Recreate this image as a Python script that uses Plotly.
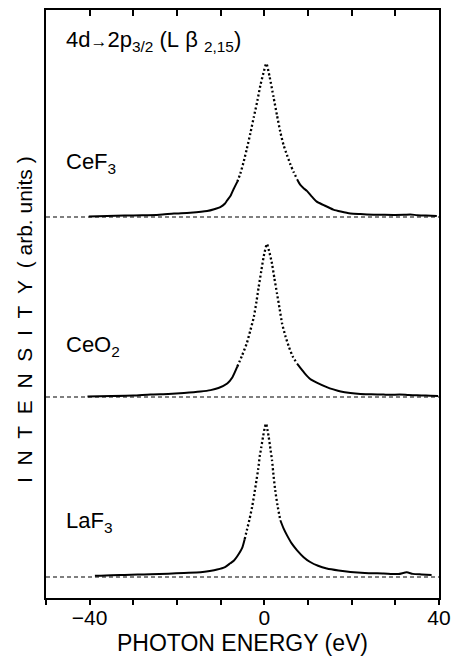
import plotly.graph_objects as go

# ---------------- data ----------------
cef3_x = [-40.2, -36, -32, -28, -24, -20.7, -17, -13.1, -11.5, -10, -9, -8.5, -7.7, -7, -6.2,
          -5.5, -4.7, -4, -3.2, -2.4, -1.6, -0.9, -0.2, 0.46, 1.2, 2.1, 2.9, 3.66, 4.4, 5.2,
          6.0, 6.7, 7.5, 8.2, 9.0, 9.75, 11, 12, 13.5, 15.8, 17.5, 19.7, 22, 25, 27.2, 30,
          32, 33.4, 35, 37, 39.5]
cef3_y = [0.002, 0.006, 0.008, 0.009, 0.012, 0.019, 0.024, 0.033, 0.043, 0.056, 0.075, 0.093, 0.12, 0.157, 0.195,
          0.241, 0.31, 0.38, 0.465, 0.556, 0.645, 0.732, 0.80, 0.852, 0.78, 0.667, 0.565, 0.472, 0.40, 0.343,
          0.29, 0.25, 0.21, 0.18, 0.16, 0.145, 0.11, 0.085, 0.067, 0.041, 0.03, 0.019, 0.016, 0.013, 0.012, 0.011,
          0.012, 0.014, 0.010, 0.008, 0.005]

ceo2_x = [-40.5, -35, -30, -26.1, -22, -18.4, -14.6, -12.3, -10.5, -8.5, -7.3, -6.2, -5.1, -4.0, -3.2,
          -2.4, -1.8, -1.3, -0.7, -0.15, 0.6, 1.2, 1.76, 2.3, 2.9, 3.5, 4.05, 4.8, 5.6, 6.5,
          7.5, 8.2, 9.3, 10.5, 12, 14.3, 15.8, 17.5, 19.7, 22, 24.5, 27.3, 29, 31, 33,
          35, 37, 39.8]
ceo2_y = [0.003, 0.005, 0.008, 0.014, 0.017, 0.022, 0.030, 0.038, 0.050, 0.075, 0.11, 0.168, 0.23, 0.30, 0.37,
          0.445, 0.53, 0.61, 0.70, 0.78, 0.85, 0.80, 0.74, 0.66, 0.575, 0.49, 0.41, 0.34, 0.28, 0.225,
          0.185, 0.163, 0.13, 0.10, 0.08, 0.055, 0.042, 0.030, 0.022, 0.017, 0.015, 0.013, 0.012, 0.014, 0.011,
          0.009, 0.008, 0.005]

laf3_x = [-38.8, -35, -32, -29, -26.1, -22, -18.4, -14.6, -12.5, -10.8, -9, -7.8, -7.0, -6.2, -5.1,
          -4.5, -4.0, -3.4, -2.8, -2.3, -1.8, -1.4, -1.07, -0.7, -0.3, 0.1, 0.4, 0.7, 1.0, 1.4,
          1.76, 2.1, 2.5, 3.0, 3.66, 4.4, 5.2, 6.3, 7.5, 9.0, 10.5, 12.3, 14.3, 17, 19.7,
          23, 27.3, 30.7, 32.6, 34, 36, 38.3]
laf3_y = [0.006, 0.010, 0.011, 0.013, 0.015, 0.018, 0.022, 0.026, 0.033, 0.041, 0.055, 0.076, 0.09, 0.115, 0.16,
          0.21, 0.26, 0.32, 0.389, 0.46, 0.537, 0.60, 0.667, 0.72, 0.778, 0.83, 0.852, 0.82, 0.778, 0.71,
          0.648, 0.565, 0.481, 0.40, 0.315, 0.27, 0.231, 0.185, 0.148, 0.11, 0.083, 0.062, 0.047, 0.036, 0.028,
          0.022, 0.019, 0.016, 0.026, 0.017, 0.014, 0.011]

series_names = ["CeF<sub>3</sub>", "CeO<sub>2</sub>", "LaF<sub>3</sub>"]
series_x = [cef3_x, ceo2_x, laf3_x]
series_y = [cef3_y, ceo2_y, laf3_y]
offsets = [2, 1, 0]
dotted_ranges = [(-6.2, 7.5), (-6.2, 7.5), (-4.5, 3.66)]

x_tick_vals = [-40, 0, 40]
x_tick_text = ["\u221240", "0", "40"]

# ---------------- figure ----------------
FONT = "Liberation Sans, Arial, Helvetica, sans-serif"
fig = go.Figure()

for xs, ys, off, (lo, hi) in zip(series_x, series_y, offsets, dotted_ranges):
    yy = [v + off for v in ys]
    left = [i for i, v in enumerate(xs) if v <= lo]
    mid = [i for i, v in enumerate(xs) if lo <= v <= hi]
    right = [i for i, v in enumerate(xs) if v >= hi]
    for idx, dash, w in ((left, "solid", 2.0), (mid, "2px,2.4px", 2.3), (right, "solid", 2.0)):
        fig.add_trace(go.Scatter(
            x=[xs[i] for i in idx], y=[yy[i] for i in idx], mode="lines",
            line=dict(color="black", width=w, dash=dash, shape="spline", smoothing=0.6),
            hoverinfo="skip", showlegend=False))

# dashed baselines
for off in offsets:
    fig.add_shape(type="line", xref="x", yref="y", x0=-50, x1=40, y0=off, y1=off,
                  line=dict(color="black", width=1.1, dash="4px,3px"), layer="below")

# sample labels
label_y = [2.30, 1.285, 0.305]
for name, ly in zip(series_names, label_y):
    fig.add_annotation(x=-45.8, y=ly, xref="x", yref="y", text=name, showarrow=False,
                       xanchor="left", yanchor="middle", font=dict(size=22, color="black", family=FONT))

nb = "\u00a0"
fig.add_annotation(x=-45.8, y=2.98, xref="x", yref="y",
                   text="4d<span style='font-size:17px'>\u2192</span>2p<sub>3/2</sub>"
                        + nb + "(L" + nb + "\u03b2" + nb + "<sub>2,15</sub>)",
                   showarrow=False, xanchor="left", yanchor="middle",
                   font=dict(size=22, color="black", family=FONT))

ytitle = (nb * 2).join(list("INTENSITY")) + nb * 2 + "(" + nb + "arb." + nb + "units" + nb + ")"
fig.add_annotation(x=-0.053, y=0.473, xref="paper", yref="paper", text=ytitle, textangle=-90,
                   showarrow=False, xanchor="center", yanchor="middle",
                   font=dict(size=21, color="black", family=FONT))

fig.add_annotation(x=0.499, y=-0.077, xref="paper", yref="paper", text="PHOTON ENERGY (eV)",
                   showarrow=False, xanchor="center", yanchor="middle",
                   font=dict(size=23, color="black", family=FONT))

fig.update_layout(
    width=451, height=658,
    margin=dict(l=46, r=12, t=10, b=60, autoexpand=False),
    paper_bgcolor="white", plot_bgcolor="white",
    font=dict(family=FONT, color="black", size=22),
    xaxis=dict(range=[-50, 40], tickvals=x_tick_vals, ticktext=x_tick_text,
               ticks="", ticklen=0, ticklabeloverflow="allow", automargin=False,
               minor=dict(tickvals=[-50, -40, -30, -20, -10, 0, 10, 20, 30, 40],
                          ticks="outside", ticklen=5, tickwidth=1.5, tickcolor="black"),
               showline=True, linecolor="black", linewidth=1.5, mirror=False,
               showgrid=False, zeroline=False, tickfont=dict(size=21, family=FONT)),
    xaxis2=dict(range=[-50, 40], overlaying="x", side="top", matches="x", automargin=False,
                tickvals=[-40, -30, -20, -10, 0, 10, 20, 30], showticklabels=False,
                ticks="inside", ticklen=6, tickwidth=1.5, tickcolor="black",
                showline=True, linecolor="black", linewidth=1.5, showgrid=False, zeroline=False),
    yaxis=dict(range=[-0.117, 3.15], showticklabels=False, ticks="", automargin=False,
               showline=True, linecolor="black", linewidth=1.5, mirror=True,
               showgrid=False, zeroline=False),
)
# invisible trace to activate top axis
fig.add_trace(go.Scatter(x=[-50], y=[0], xaxis="x2", mode="markers", marker=dict(opacity=0),
                         hoverinfo="skip", showlegend=False))

fig.write_html("out.html", config={"displayModeBar": False},
               post_script="document.body.style.margin='0';document.body.style.overflow='hidden';")
